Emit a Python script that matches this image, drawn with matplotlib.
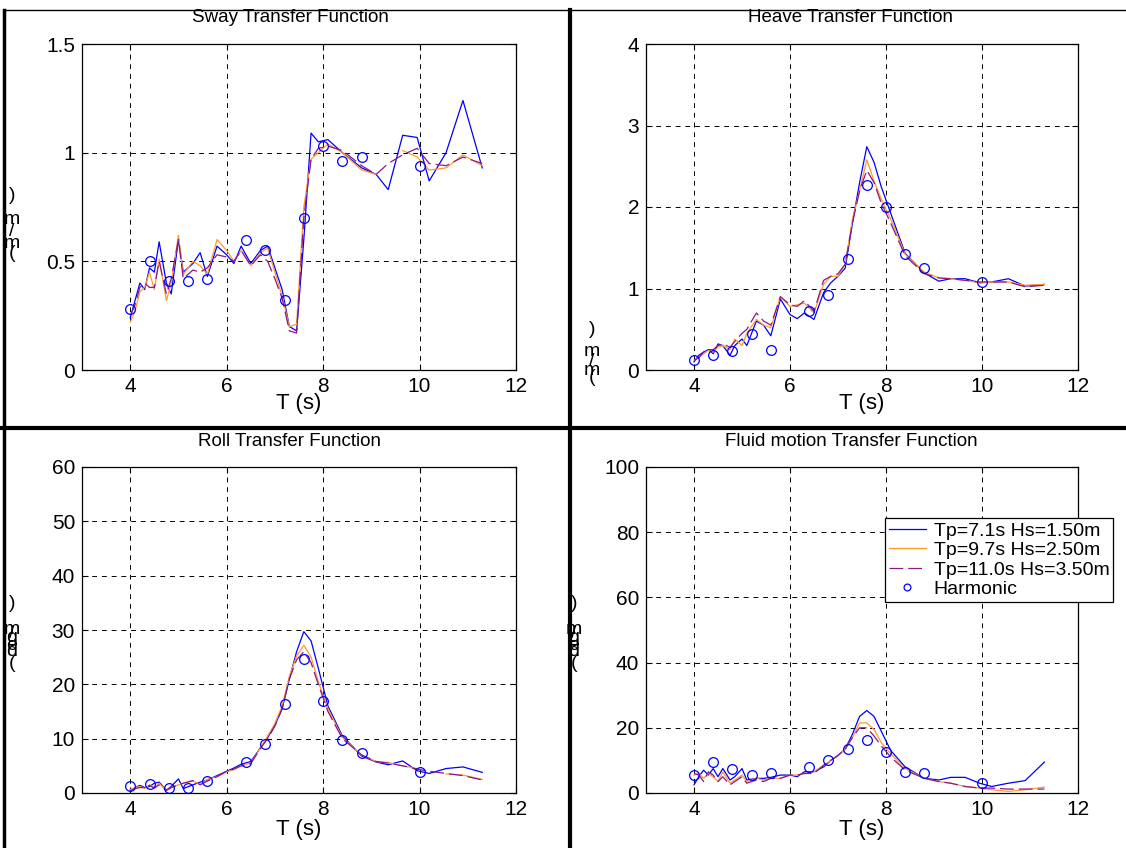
import numpy as np
import matplotlib.pyplot as plt
from matplotlib.lines import Line2D

plt.rcParams['font.family'] = ['Liberation Sans', 'DejaVu Sans']

# simulation periods (s)
T_sim = [4.0, 4.1, 4.2, 4.3, 4.4, 4.5, 4.6, 4.75, 4.85, 5.0, 5.1, 5.3, 5.45, 5.6,
         5.8, 6.0, 6.15, 6.3, 6.5, 6.7, 6.85, 7.0, 7.15, 7.3, 7.45, 7.6, 7.75,
         7.9, 8.1, 8.4, 8.8, 9.1, 9.35, 9.65, 9.95, 10.2, 10.55, 10.9, 11.3]
# harmonic test periods
T_harm = [4.0, 4.4, 4.8, 5.2, 5.6, 6.4, 6.8, 7.2, 7.6, 8.0, 8.4, 8.8, 10.0]

nan = np.nan

# sway
sway_a = [0.24, 0.32, 0.40, 0.37, 0.47, 0.45, 0.59, 0.40, 0.35, 0.60, 0.45, 0.49, 0.54, 0.43,
          0.57, 0.53, 0.49, 0.57, 0.49, 0.55, 0.57, 0.47, 0.37, 0.20, 0.18, 0.60, 1.09,
          1.05, 1.06, 1.00, 0.93, 0.90, 0.83, 1.08, 1.07, 0.87, 1.00, 1.24, 0.93]
sway_b = [0.22, 0.27, 0.36, 0.38, 0.45, 0.37, 0.51, 0.32, 0.40, 0.62, 0.44, 0.50, 0.48, 0.44,
          0.60, 0.55, 0.50, 0.55, 0.48, 0.54, 0.56, 0.45, 0.34, 0.20, 0.21, 0.75, 0.97,
          1.00, 1.04, 1.00, 0.92, 0.90, nan, 1.01, 0.98, 0.92, 0.93, 0.99, 0.94]
sway_c = [0.25, 0.30, 0.38, 0.40, 0.38, 0.38, 0.50, 0.35, 0.42, 0.60, 0.42, 0.46, 0.45, 0.47,
          0.53, 0.52, 0.50, 0.55, 0.48, 0.53, 0.50, 0.42, 0.33, 0.18, 0.17, 0.70, 0.97,
          1.02, 1.03, 1.01, 0.94, 0.90, 0.95, 0.99, 1.02, 0.95, 0.94, 0.98, 0.95]
sway_h = [0.28, 0.50, 0.41, 0.41, 0.42, 0.60, 0.55, 0.32, 0.70, 1.03, 0.96, 0.98, 0.94]

# heave
heave_a = [0.10, 0.18, 0.22, 0.25, 0.20, 0.32, 0.30, 0.18, 0.30, 0.38, 0.30, 0.60, 0.55, 0.42,
           0.87, 0.68, 0.63, 0.70, 0.62, 0.95, 1.07, 1.15, 1.25, 1.80, 2.30, 2.74, 2.55,
           2.25, 1.92, 1.43, 1.19, 1.09, 1.12, 1.12, 1.07, 1.08, 1.12, 1.03, 1.05]
heave_b = [0.12, 0.15, 0.20, 0.24, 0.22, 0.28, 0.30, 0.25, 0.38, 0.30, 0.45, 0.62, 0.55, 0.52,
           0.90, 0.78, 0.80, 0.82, 0.70, 1.05, 1.15, 1.15, 1.30, 1.85, 2.20, 2.58, 2.32,
           2.10, 1.85, 1.42, 1.20, 1.13, 1.12, 1.10, 1.07, 1.08, 1.08, 1.04, 1.05]
heave_c = [0.12, 0.15, 0.22, 0.25, 0.25, 0.30, 0.32, 0.28, 0.35, 0.45, 0.50, 0.70, 0.60, 0.55,
           0.90, 0.80, 0.78, 0.85, 0.72, 1.10, 1.15, 1.18, 1.30, 1.80, 2.20, 2.45, 2.30,
           2.05, 1.80, 1.40, 1.18, 1.13, 1.12, 1.10, 1.08, 1.08, 1.08, 1.02, 1.04]
heave_h = [0.12, 0.19, 0.23, 0.44, 0.25, 0.72, 0.92, 1.36, 2.27, 2.00, 1.42, 1.25, 1.08]

# roll
roll_a = [0.5, 1.0, 1.4, 1.0, 1.2, 1.8, 2.0, 0.5, 1.2, 2.6, 0.8, 1.5, 2.0, 2.4,
          3.2, 4.0, 4.6, 5.3, 5.8, 8.3, 10.2, 12.5, 15.5, 21.0, 26.0, 29.7, 28.0,
          23.0, 16.0, 10.5, 6.8, 5.7, 5.2, 5.9, 4.1, 3.6, 4.5, 4.8, 3.8]
roll_b = [0.6, 1.0, 1.2, 0.8, 1.5, 1.0, 1.8, 0.4, 1.0, 1.5, 1.8, 2.2, 1.6, 2.5,
          3.0, 3.9, 4.3, 5.0, 5.5, 8.3, 10.5, 12.8, 16.0, 21.5, 25.2, 27.2, 25.0,
          20.5, 15.5, 10.2, 7.0, 5.8, 5.6, 5.0, 4.5, nan, 3.5, 3.3, 2.5]
roll_c = [0.4, 0.8, 1.0, 1.0, 1.4, 0.9, 1.5, 0.5, 1.0, 1.5, 1.8, 2.3, 1.5, 2.2,
          3.0, 4.0, 4.4, 5.0, 5.4, 8.2, 10.0, 12.3, 15.5, 21.0, 24.5, 26.0, 24.0,
          20.0, 15.0, 10.0, 7.0, 5.8, 5.5, 5.0, 4.4, 4.0, 3.6, 3.2, 2.4]
roll_h = [1.3, 1.7, 0.9, 0.9, 2.3, 5.7, 9.0, 16.3, 24.6, 17.0, 9.7, 7.4, 3.9]

# fluid motion
fluid_a = [2.5, 5.0, 7.0, 5.5, 7.5, 5.0, 7.5, 4.0, 5.0, 7.5, 4.0, 4.5, 4.5, 4.8,
           5.5, 5.5, 5.0, 6.5, 6.5, 8.0, 10.0, 11.5, 13.5, 18.0, 23.5, 25.3, 23.5,
           19.0, 13.0, 8.0, 4.5, 4.0, 4.8, 4.8, 3.0, 2.0, 3.0, 3.8, 9.5]
fluid_b = [5.5, 6.0, 4.5, 6.0, 5.0, 3.5, 6.5, 3.0, 4.0, 5.5, 3.5, 4.5, 4.0, 4.5,
           4.5, 5.5, 5.5, 6.0, 6.5, 8.5, 10.0, 11.5, 13.5, 17.0, 21.5, 21.5, 19.5,
           15.5, 12.0, 7.5, 4.5, 3.5, 3.0, 2.0, 1.5, 1.0, 0.5, 1.0, 1.8]
fluid_c = [6.0, 5.5, 3.5, 6.5, 5.5, 3.5, 5.0, 2.5, 3.5, 5.0, 3.0, 4.0, 3.5, 4.5,
           4.5, 5.5, 5.5, 6.0, 6.0, 8.5, 10.0, 11.5, 13.5, 17.0, 20.0, 20.0, 17.5,
           14.5, 11.0, 7.0, 4.5, 3.5, 3.0, 2.0, 1.5, 1.5, 1.2, 1.2, 1.2]
fluid_h = [5.5, 9.5, 7.5, 5.5, 6.2, 8.0, 10.0, 13.5, 16.3, 12.5, 6.5, 6.0, 3.0]

titles = ['Sway Transfer Function', 'Heave Transfer Function',
          'Roll Transfer Function', 'Fluid motion Transfer Function']
ylims = [(0, 1.5), (0, 4), (0, 60), (0, 100)]
yticks = [[0, 0.5, 1, 1.5], [0, 1, 2, 3, 4], [0, 10, 20, 30, 40, 50, 60],
          [0, 20, 40, 60, 80, 100]]
ytick_labels = [['0', '0.5', '1', '1.5'], None, None, None]
legend_labels = ['Tp=7.1s Hs=1.50m', 'Tp=9.7s Hs=2.50m', 'Tp=11.0s Hs=3.50m', 'Harmonic']

c_blue = '#0000ff'
c_orange = '#ff9a2a'
c_purple = '#8a1a8a'

W, H = 1126, 848
fig = plt.figure(figsize=(W / 100, H / 100), dpi=100)

def px_rect(l, r, t, b):
    return [l / W, 1 - b / H, (r - l) / W, (b - t) / H]

rects = [px_rect(82, 516, 44, 370), px_rect(646, 1078, 44, 370),
         px_rect(82, 516, 467, 793), px_rect(646, 1078, 467, 793)]

series = [(sway_a, sway_b, sway_c, sway_h), (heave_a, heave_b, heave_c, heave_h),
          (roll_a, roll_b, roll_c, roll_h), (fluid_a, fluid_b, fluid_c, fluid_h)]

axes = []
for i in range(4):
    ax = fig.add_axes(rects[i])
    a, b, c, h = series[i]
    ax.plot(T_sim, a, color=c_blue, lw=0.9, label=legend_labels[0])
    ax.plot(T_sim, b, color=c_orange, lw=0.9, label=legend_labels[1])
    ax.plot(T_sim, c, color=c_purple, lw=0.9, ls=(0, (11, 4)), label=legend_labels[2])
    ax.plot(T_harm, h, 'o', mfc='none', mec=c_blue, ms=7, mew=0.9, label=legend_labels[3])
    ax.set_xlim(3, 12)
    ax.set_ylim(*ylims[i])
    ax.set_xticks([4, 6, 8, 10, 12])
    ax.set_yticks(yticks[i])
    if ytick_labels[i]:
        ax.set_yticklabels(ytick_labels[i])
    ax.grid(True, color='black', ls=(0, (5, 5)), lw=0.7)
    ax.tick_params(direction='in', length=4, labelsize=15, top=True, right=True,
                   pad=5, width=0.8)
    for s in ax.spines.values():
        s.set_linewidth(0.9)
    axes.append(ax)

# titles
title_pos = [(290, 18), (851, 18), (290, 442), (851, 442)]
for (x, y), t in zip(title_pos, titles):
    fig.text(x / W, 1 - y / H, t, ha='center', va='center', fontsize=13.5)

# x labels
xlab_pos = [(299, 404), (862, 404), (299, 830), (862, 830)]
for x, y in xlab_pos:
    fig.text(x / W, 1 - y / H, 'T (s)', ha='center', va='center', fontsize=16)

# y labels drawn as upright stacked glyphs
def stacked(x, chars, ys):
    for ch, y in zip(chars, ys):
        fig.text(x / W, 1 - y / H, ch, ha='center', va='center', fontsize=14)

stacked(12, [')', 'm', '/', 'm', '('], [195, 220, 232, 243, 253])
stacked(592, [')', 'm', '/', 'm', '('], [330, 352, 362, 370, 378])
stacked(12, [')', 'm', '/', 'g', 'e', 'd', '('], [603, 630, 634, 638, 645, 651, 664])
stacked(574, [')', 'm', '/', 'g', 'e', 'd', '('], [603, 630, 634, 638, 645, 651, 664])

# legend in fluid motion panel
leg = axes[3].legend(loc='upper left', bbox_to_anchor=(885 / W, 1 - 518 / H),
                     bbox_transform=fig.transFigure, fontsize=14, frameon=True,
                     fancybox=False, edgecolor='black', framealpha=1,
                     borderaxespad=0, handlelength=1.9, labelspacing=0.1,
                     borderpad=0.2, handletextpad=0.4, numpoints=1, markerscale=0.7)
leg.get_frame().set_linewidth(0.9)

# frame / divider lines
fig.add_artist(Line2D([4 / W, 4 / W], [0, 1 - 10 / H], color='black', lw=2.5))
fig.add_artist(Line2D([4 / W, 1], [1 - 10 / H, 1 - 10 / H], color='black', lw=1))
fig.add_artist(Line2D([570 / W, 570 / W], [0, 1 - 10 / H], color='black', lw=3))
fig.add_artist(Line2D([0, 1], [1 - 428 / H, 1 - 428 / H], color='black', lw=3))

fig.savefig('out.png', dpi=100)
